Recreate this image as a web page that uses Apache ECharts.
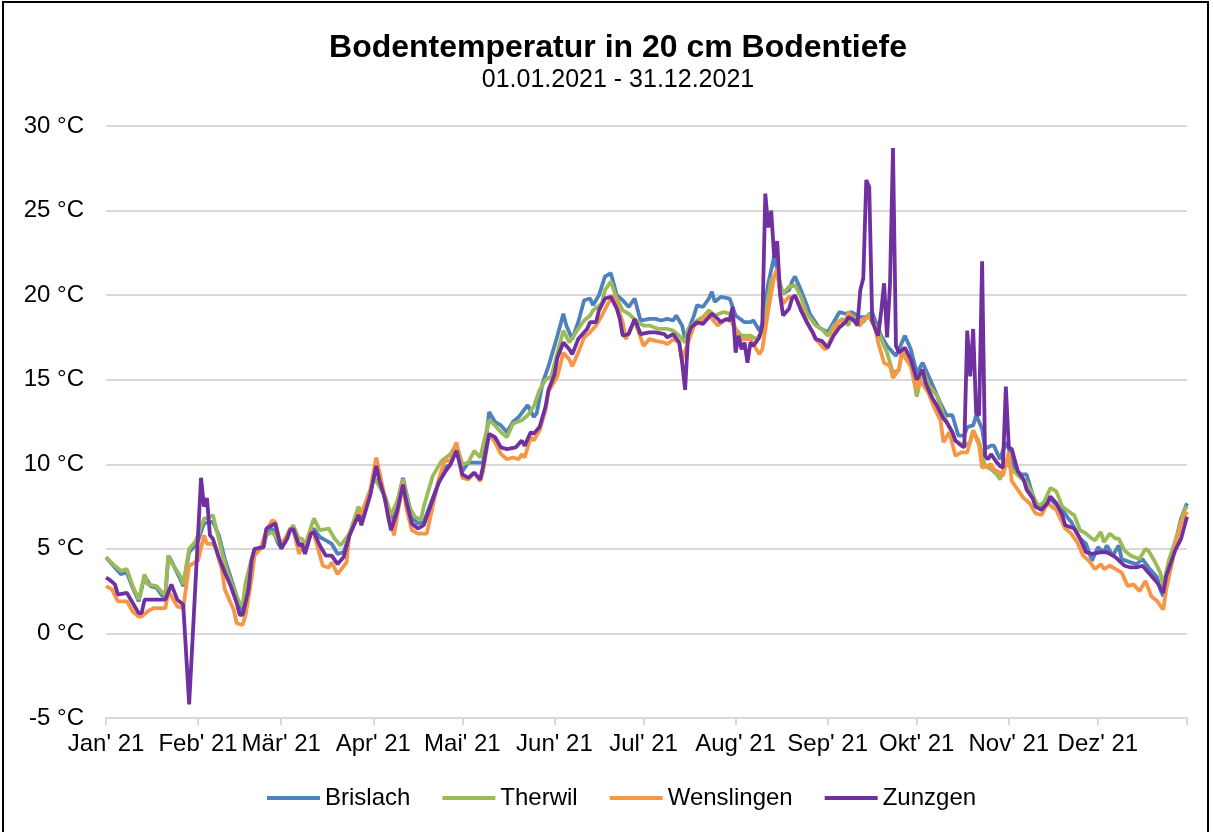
<!DOCTYPE html>
<html>
<head>
<meta charset="utf-8">
<script src="https://cdn.jsdelivr.net/npm/echarts@6/dist/echarts.min.js"></script>
<style>
  html, body { margin: 0; padding: 0; background: #fff; overflow: hidden; }
  #frame { position: absolute; left: 2px; top: 1px; width: 1207px; height: 860px; border: 2px solid #000; box-sizing: border-box; }
  #chart { position: absolute; left: 0; top: 0; width: 1213px; height: 832px; }
</style>
</head>
<body>
<div id="frame"></div>
<div id="chart"></div>
<script>
// Monatsbeschriftung der x-Achse
const monthLabels = ["Jan' 21", "Feb' 21", "Mär' 21", "Apr' 21", "Mai' 21", "Jun' 21",
  "Jul' 21", "Aug' 21", "Sep' 21", "Okt' 21", "Nov' 21", "Dez' 21"];
const stations = ['Brislach', 'Therwil', 'Wenslingen', 'Zunzgen'];
const colors = ['#4F81BD', '#9BBB59', '#F79646', '#7030A0'];

// Tageswerte [Tag im Jahr (0 = 01.01.), °C]
const brislach = [[0,4.5],[3,3.9],[5,3.5],[7,3.6],[9,2.7],[11,1.9],[13,3.4],[15,2.8],[17,2.7],[19,2.2],[20,2.3],[21,4.6],[22,4.3],[25,3.2],[26,2.8],[28,4.8],[30,5.2],[31,5.5],[33,6.5],[35,6.6],[36,6.6],[38,5.8],[40,4.4],[42,3.3],[44,2.2],[45,1.4],[46,1.3],[47,2.6],[49,4.3],[50,4.9],[53,5.1],[54,5.9],[56,6.2],[58,5.3],[59,5.1],[61,5.8],[62,6.2],[63,6.2],[65,5.2],[66,5.3],[67,4.8],[69,6.0],[70,6.2],[72,5.7],[74,5.5],[76,5.3],[78,4.7],[80,4.8],[82,5.8],[85,7.2],[86,6.8],[89,8.4],[91,9.9],[92,9.2],[94,8.0],[96,6.6],[98,7.6],[100,9.2],[101,8.4],[103,6.9],[105,6.5],[107,6.6],[110,8.0],[112,8.9],[114,9.8],[116,10.0],[118,10.9],[120,9.6],[122,10.1],[125,10.1],[127,10.1],[129,13.1],[131,12.5],[133,12.3],[135,11.9],[137,12.5],[139,12.8],[142,13.5],[144,12.8],[145,13.0],[147,14.8],[149,15.8],[152,17.6],[154,18.9],[155,18.2],[157,17.4],[159,18.4],[161,19.7],[163,19.8],[164,19.4],[166,20.0],[168,21.1],[170,21.3],[172,20.0],[174,19.7],[176,19.3],[178,19.8],[180,18.5],[183,18.6],[185,18.6],[187,18.5],[189,18.6],[191,18.5],[192,18.8],[194,18.2],[195,17.4],[198,18.8],[199,19.4],[201,19.3],[203,19.8],[204,20.2],[205,19.6],[207,19.9],[210,19.8],[211,19.3],[212,18.8],[215,18.4],[217,18.4],[218,18.5],[220,17.9],[221,18.3],[223,20.7],[225,22.3],[226,21.5],[227,20.2],[228,20.1],[230,20.3],[231,20.8],[232,21.1],[234,20.3],[236,19.4],[237,18.9],[240,18.1],[242,17.9],[243,17.8],[245,18.4],[247,19.0],[249,18.9],[251,19.0],[253,18.8],[254,18.7],[256,18.7],[258,19.0],[259,18.5],[261,17.6],[263,17.0],[264,16.8],[266,16.4],[267,16.8],[269,17.6],[271,16.8],[273,15.4],[275,16.0],[277,15.2],[279,14.4],[281,13.6],[283,12.9],[285,12.9],[287,11.7],[289,11.7],[290,12.2],[292,12.3],[293,12.9],[295,12.1],[296,10.9],[298,11.1],[299,11.1],[301,10.3],[303,11.3],[304,10.9],[306,9.8],[308,9.4],[310,9.4],[312,8.2],[313,7.7],[315,7.5],[317,8.1],[320,7.6],[322,7.3],[324,6.8],[325,6.6],[328,5.6],[330,5.3],[332,4.3],[334,5.1],[336,4.8],[337,5.2],[339,4.6],[341,5.2],[342,4.4],[345,4.2],[347,4.1],[349,4.4],[351,3.9],[354,3.3],[355,2.6],[356,2.2],[357,3.6],[359,4.6],[360,5.3],[362,6.8],[364,7.7]];

const therwil = [[0,4.5],[3,4.0],[5,3.7],[7,3.8],[9,2.8],[11,2.0],[13,3.5],[14,2.9],[17,2.8],[19,2.4],[20,2.3],[21,4.6],[22,4.2],[25,3.4],[26,2.9],[28,5.0],[30,5.4],[31,5.8],[33,6.8],[34,6.8],[36,7.0],[37,6.3],[39,4.8],[41,3.6],[43,2.6],[45,1.8],[46,1.7],[47,3.0],[49,4.4],[50,4.9],[53,5.1],[54,5.8],[56,6.0],[58,5.5],[59,5.3],[61,5.8],[63,6.4],[65,5.6],[66,5.6],[67,5.2],[70,6.8],[72,6.1],[75,6.2],[77,5.6],[79,5.2],[82,5.9],[85,7.5],[86,7.1],[89,8.2],[90,9.3],[92,8.7],[94,8.1],[96,7.0],[98,7.8],[100,9.1],[102,7.5],[104,6.9],[106,6.7],[107,7.5],[110,9.3],[113,10.2],[116,10.6],[118,11.2],[120,10.0],[122,10.1],[124,10.8],[126,10.4],[129,12.6],[131,12.3],[133,11.9],[135,11.6],[137,12.4],[140,12.6],[142,12.9],[144,13.4],[146,14.4],[148,15.0],[150,15.2],[152,16.6],[154,17.9],[156,17.2],[159,18.0],[161,18.5],[163,18.8],[164,19.1],[167,19.5],[168,20.3],[170,20.8],[172,19.8],[174,19.1],[176,18.9],[179,18.4],[181,18.2],[183,18.2],[186,18.0],[189,18.0],[191,17.9],[193,17.6],[195,17.2],[196,18.0],[199,18.5],[201,18.7],[203,19.1],[205,18.8],[208,19.0],[210,18.9],[212,18.0],[214,17.6],[217,17.6],[219,17.4],[221,17.8],[222,18.8],[224,20.9],[226,21.3],[227,20.7],[228,20.1],[230,20.5],[232,20.6],[234,19.9],[236,18.9],[239,18.2],[241,18.0],[243,17.6],[245,18.2],[248,18.6],[250,18.2],[251,18.8],[253,18.5],[255,18.4],[257,18.9],[258,18.4],[260,18.0],[261,17.4],[263,16.6],[265,15.4],[267,15.6],[268,16.7],[271,16.0],[273,14.0],[275,15.6],[277,14.7],[280,14.0],[282,12.9],[284,12.2],[286,11.4],[289,11.1],[291,11.3],[292,12.0],[294,11.3],[296,9.9],[298,9.7],[300,9.4],[301,9.1],[303,10.1],[305,9.7],[308,9.2],[310,8.9],[312,8.2],[314,7.5],[316,7.8],[318,8.6],[320,8.4],[322,7.5],[325,7.1],[326,7.0],[328,6.1],[330,5.9],[332,5.6],[333,5.5],[335,6.0],[336,5.4],[338,5.9],[340,5.6],[341,5.6],[343,4.9],[345,4.6],[348,4.4],[350,5.0],[351,4.9],[353,4.3],[355,3.6],[356,2.8],[358,4.4],[359,4.9],[361,6.0],[363,7.3],[364,7.5]];

const wenslingen = [[0,2.8],[2,2.6],[4,1.9],[7,1.9],[9,1.3],[11,1.0],[12,1.0],[14,1.3],[16,1.5],[20,1.5],[21,2.5],[24,1.6],[26,1.5],[28,4.0],[31,4.3],[33,5.8],[34,5.3],[36,5.3],[37,5.0],[39,3.8],[40,2.6],[43,1.4],[44,0.6],[46,0.5],[47,1.1],[49,3.2],[50,4.6],[52,5.0],[54,6.1],[56,6.7],[57,6.6],[59,5.1],[61,5.8],[62,6.2],[63,6.2],[65,4.7],[66,5.1],[67,4.8],[69,6.1],[70,5.9],[73,4.0],[75,3.9],[76,4.2],[78,3.5],[81,4.2],[82,5.9],[85,7.1],[86,7.1],[89,8.5],[91,10.4],[93,8.8],[94,7.8],[97,5.8],[98,6.9],[100,8.9],[101,7.5],[103,6.1],[105,5.9],[108,5.9],[110,7.5],[112,9.1],[114,10.2],[116,10.2],[118,11.3],[120,9.2],[122,9.1],[124,9.5],[126,9.0],[127,9.6],[129,11.8],[131,11.3],[133,10.6],[135,10.3],[137,10.4],[139,10.3],[140,10.6],[141,10.4],[143,11.6],[144,11.4],[146,12.0],[148,13.2],[149,14.3],[152,15.2],[154,16.6],[156,16.2],[157,15.8],[159,16.6],[161,17.5],[163,17.8],[165,18.2],[167,18.8],[169,19.5],[171,20.0],[172,19.4],[174,18.4],[175,17.4],[178,18.5],[181,17.0],[183,17.4],[185,17.3],[188,17.2],[189,17.1],[191,17.4],[193,17.2],[194,16.2],[196,17.2],[198,18.2],[200,18.4],[203,18.9],[204,18.6],[206,18.2],[208,18.5],[210,18.6],[212,18.0],[213,17.4],[215,17.4],[217,17.4],[220,16.5],[221,16.8],[223,19.1],[225,21.1],[226,21.6],[227,20.1],[228,19.5],[230,19.9],[232,19.9],[234,19.3],[236,18.4],[239,17.4],[242,16.8],[243,16.9],[245,17.9],[247,18.5],[249,18.4],[250,19.0],[252,18.4],[254,18.2],[255,18.6],[257,18.7],[259,18.1],[260,17.2],[262,16.0],[264,15.8],[265,15.1],[267,15.6],[268,16.6],[271,15.8],[273,14.4],[274,15.0],[277,14.2],[279,13.3],[281,12.6],[282,11.3],[284,11.9],[286,10.5],[288,10.7],[290,10.7],[292,12.0],[294,11.1],[295,9.8],[298,10.0],[299,9.7],[301,9.5],[302,9.3],[304,10.7],[305,9.0],[307,8.5],[309,8.0],[311,7.7],[313,7.1],[315,7.0],[317,7.7],[320,7.3],[321,6.9],[323,6.2],[325,5.9],[327,5.4],[329,4.6],[331,4.3],[333,3.8],[335,4.1],[336,3.8],[338,4.0],[340,3.8],[342,3.6],[344,2.8],[346,2.9],[348,2.5],[350,3.1],[352,2.2],[354,1.9],[356,1.4],[357,2.6],[359,4.2],[360,5.2],[362,6.5],[364,7.2]];

const zunzgen = [[0,3.3],[1,3.2],[3,2.9],[4,2.3],[7,2.4],[9,1.8],[11,1.2],[12,1.2],[13,2.0],[20,2.0],[22,2.9],[24,2.0],[26,1.7],[28,-4.2],[32,9.2],[33,7.5],[34,8.0],[35,5.8],[36,5.6],[38,4.5],[40,3.6],[42,2.8],[44,1.8],[45,1.1],[46,1.1],[48,2.6],[49,4.3],[50,5.0],[53,5.1],[54,6.2],[56,6.4],[57,6.5],[59,5.0],[61,5.6],[62,6.1],[63,6.2],[65,5.2],[66,5.3],[67,4.7],[69,5.9],[70,6.0],[72,5.2],[74,4.6],[76,4.6],[78,4.1],[80,4.5],[82,5.8],[85,7.0],[86,6.4],[89,8.2],[91,9.9],[92,9.1],[94,7.9],[95,6.9],[96,6.1],[98,7.2],[100,8.8],[101,7.9],[103,6.5],[105,6.2],[107,6.4],[110,7.9],[112,8.9],[114,9.5],[116,10.0],[118,10.8],[120,9.4],[122,9.2],[124,9.5],[126,9.1],[127,9.9],[129,11.8],[131,11.6],[133,11.0],[135,10.9],[138,11.0],[140,11.4],[141,11.1],[143,11.9],[144,11.8],[146,12.2],[148,13.4],[149,14.4],[151,15.3],[152,16.3],[154,17.2],[156,16.8],[157,16.5],[159,17.4],[162,18.0],[163,18.4],[165,18.4],[166,19.1],[168,19.8],[170,19.9],[172,19.2],[173,18.6],[174,17.6],[176,17.7],[178,18.6],[180,17.7],[183,17.8],[185,17.8],[188,17.7],[189,17.5],[191,17.7],[193,17.2],[194,16.0],[195,14.4],[196,17.6],[197,18.1],[199,18.4],[201,18.3],[202,18.5],[204,18.9],[206,18.6],[207,18.4],[209,18.6],[210,18.5],[211,19.3],[212,16.6],[213,17.6],[214,16.8],[215,17.2],[216,16.0],[217,17.2],[218,17.0],[220,17.5],[221,18.2],[222,26.0],[223,24.0],[224,25.0],[225,22.2],[226,23.2],[227,20.0],[228,18.8],[230,19.2],[231,19.8],[232,20.0],[234,19.1],[236,18.4],[238,17.8],[239,17.4],[241,17.3],[243,16.9],[245,17.6],[247,18.1],[249,18.4],[250,18.7],[252,18.5],[253,18.2],[254,20.3],[255,21.0],[256,26.8],[257,26.4],[258,18.5],[259,18.0],[260,17.6],[261,19.0],[262,20.7],[263,17.5],[264,20.7],[265,28.7],[266,17.0],[267,16.6],[269,16.9],[271,16.2],[273,15.0],[275,15.6],[276,14.8],[278,14.0],[280,13.4],[282,12.7],[283,12.5],[285,11.9],[286,11.4],[288,11.1],[289,11.0],[290,17.9],[291,15.2],[292,18.0],[293,13.0],[294,12.9],[295,22.0],[296,10.5],[297,10.3],[298,10.6],[300,10.1],[301,9.9],[302,9.8],[303,14.6],[304,11.0],[305,10.9],[307,9.6],[309,9.1],[310,8.5],[312,8.0],[313,7.5],[315,7.3],[317,7.7],[318,8.1],[320,7.7],[322,7.0],[323,6.4],[326,6.2],[328,5.6],[330,4.8],[332,4.7],[335,4.8],[337,4.8],[338,4.7],[340,4.5],[343,4.0],[345,3.9],[347,3.9],[349,4.0],[351,3.6],[354,3.0],[356,2.4],[357,3.4],[359,4.4],[360,4.9],[362,5.6],[364,6.9]];

const yTicks = { min: -5, max: 30, interval: 5 };

// Kategorien: alle Tage 2021
const days = [];
const monthStart = {};
for (let d = new Date(Date.UTC(2021, 0, 1)), i = 0; d.getUTCFullYear() === 2021; d.setUTCDate(d.getUTCDate() + 1), i++) {
  days.push(d.toISOString().slice(0, 10));
  if (d.getUTCDate() === 1) monthStart[i] = d.getUTCMonth();
}

const font = '"Liberation Sans", Arial, sans-serif';
const chart = echarts.init(document.getElementById('chart'));

chart.setOption({
  animation: false,
  color: colors,
  title: {
    text: 'Bodentemperatur in 20 cm Bodentiefe',
    subtext: '01.01.2021 - 31.12.2021',
    left: 613,
    textAlign: 'center',
    top: 27,
    itemGap: 4,
    textStyle: { fontFamily: font, fontSize: 32, fontWeight: 'bold', color: '#000' },
    subtextStyle: { fontFamily: font, fontSize: 25, color: '#000' }
  },
  legend: {
    bottom: 17,
    left: 262,
    icon: 'rect',
    itemWidth: 53,
    itemHeight: 4,
    itemGap: 32,
    textStyle: { fontFamily: font, fontSize: 24, color: '#000', padding: [0, 0, 0, 0] },
    data: stations
  },
  grid: { left: 106, right: 26, top: 126, bottom: 114 },
  xAxis: {
    type: 'category',
    data: days,
    boundaryGap: false,
    axisLine: { onZero: false, lineStyle: { color: '#d9d9d9', width: 2 } },
    axisTick: {
      interval: (i) => monthStart[i] !== undefined || i === days.length - 1,
      length: 7,
      lineStyle: { color: '#d9d9d9', width: 2 }
    },
    axisLabel: {
      interval: (i) => monthStart[i] !== undefined,
      formatter: (v, i) => monthLabels[monthStart[i]] || '',
      fontFamily: font,
      fontSize: 24,
      color: '#000',
      margin: 14
    },
    splitLine: { show: false }
  },
  yAxis: {
    type: 'value',
    min: yTicks.min,
    max: yTicks.max,
    interval: yTicks.interval,
    axisLine: { show: false },
    axisTick: { show: false },
    axisLabel: { formatter: '{value} °C', fontFamily: font, fontSize: 24, color: '#000', margin: 22 },
    splitLine: { lineStyle: { color: '#d9d9d9', width: 2 } }
  },
  series: [brislach, therwil, wenslingen, zunzgen].map((data, k) => ({
    name: stations[k],
    type: 'line',
    data: data,
    showSymbol: false,
    symbol: 'none',
    lineStyle: { width: 3.8, color: colors[k] },
    itemStyle: { color: colors[k] }
  }))
});
</script>
</body>
</html>
